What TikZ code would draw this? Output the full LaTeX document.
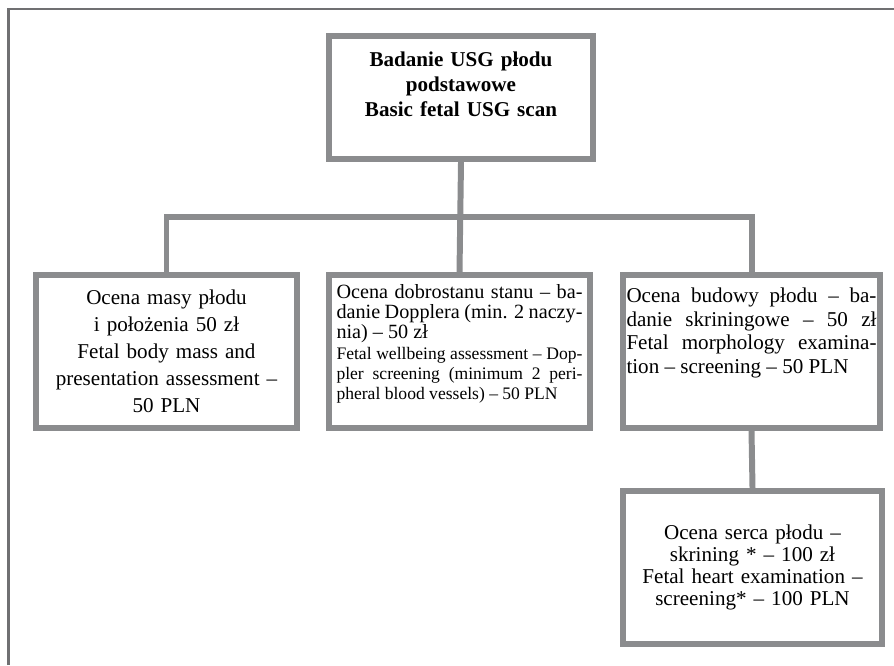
\documentclass[tikz,border=0pt]{standalone}
\usepackage{fontspec}
\setmainfont{Liberation Serif}
\definecolor{boxgray}{RGB}{139,140,142}
\definecolor{framegray}{RGB}{112,112,114}
\tikzset{
  usgbox/.style={draw=boxgray, line width=3.4pt, fill=white, minimum width=5.22cm,
    minimum height=3.06cm, text width=5cm, inner xsep=2pt, align=center,
    font=\fontsize{12}{15.4}\selectfont},
  link/.style={draw=boxgray, line width=3.4pt}
}
\begin{document}
\begin{tikzpicture}
\useasboundingbox (0,0) rectangle (17.88,13.3);
\draw[framegray, line width=1.3pt] (0.17,0) |- (17.88,13.12);
\node[usgbox, minimum width=5.28cm, minimum height=2.46cm, text depth=1.52cm,
  font=\bfseries\fontsize{12}{14}\selectfont] (root) at (9.22,11.35)
  {Badanie USG płodu\\ podstawowe\\ Basic fetal USG scan};
\node[usgbox] (mass) at (3.33,6.27)
  {Ocena masy płodu\\ i położenia 50 zł\\ Fetal body mass and\\ presentation assessment –\\ 50 PLN};
\node[usgbox, text width=4.92cm, align=justify, text depth=2.42cm, font=\fontsize{11.5}{13.6}\selectfont] (doppler) at (9.19,6.27)
  {Ocena dobrostanu stanu – ba-\linebreak danie Dopplera (min. 2 naczy-\linebreak nia) – 50 zł\\
  {\fontsize{10}{11.6}\selectfont Fetal wellbeing assessment – Dop-\linebreak pler screening (minimum 2 peri-\linebreak pheral blood vessels) – 50 PLN\par}};
\node[usgbox, minimum width=5.14cm, align=justify, text depth=2.24cm, font=\fontsize{12}{13.4}\selectfont] (morph) at (15.03,6.27)
  {Ocena budowy płodu – ba-\linebreak danie skriningowe – 50 zł\linebreak Fetal morphology examina-\linebreak tion – screening – 50 PLN};
\node[usgbox, minimum width=5.18cm, font=\fontsize{12}{12.5}\selectfont] (heart) at (15.05,1.95)
  {Ocena serca płodu –\\ skrining * – 100 zł\\ Fetal heart examination –\\ screening* – 100 PLN};
\coordinate (bar) at (0,8.96);
\draw[link] (root.south) -- (doppler.north);
\draw[link] (mass.north) -- (mass.north |- bar) -- (morph.north |- bar) -- (morph.north);
\draw[link] (morph.south) -- (heart.north);
\end{tikzpicture}
\end{document}
